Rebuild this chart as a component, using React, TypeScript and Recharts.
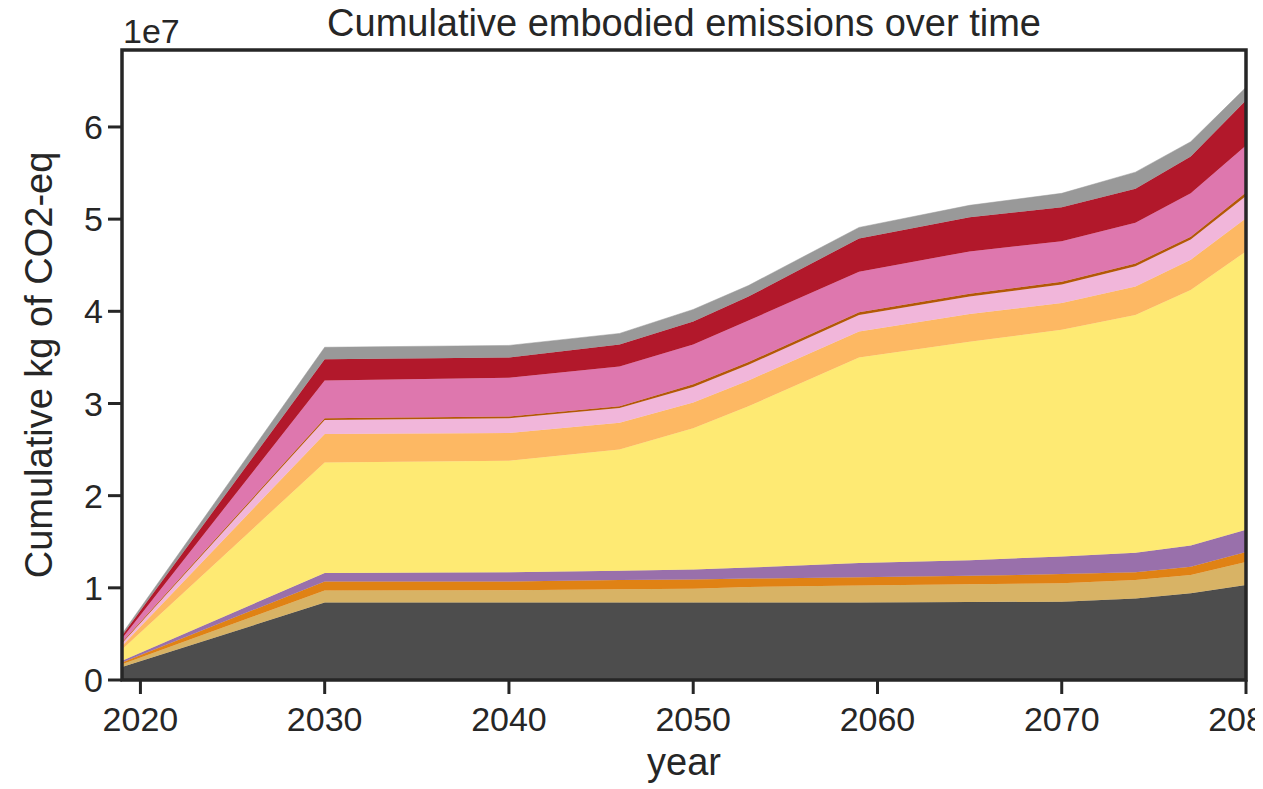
import { AreaChart, Area, XAxis, YAxis, ReferenceArea, Label } from 'recharts';

// values in units of 1e7 kg CO2-eq (cumulative contribution of each layer)
const years = [2019, 2030, 2040, 2046, 2050, 2053, 2059, 2065, 2070, 2074, 2077, 2080];
const darkGrey = [0.14, 0.84, 0.84, 0.84, 0.84, 0.84, 0.84, 0.845, 0.85, 0.885, 0.94, 1.03];
const tan = [0.03, 0.13, 0.135, 0.145, 0.15, 0.17, 0.185, 0.195, 0.2, 0.2, 0.2, 0.25];
const orange = [0.02, 0.1, 0.095, 0.1, 0.1, 0.09, 0.09, 0.09, 0.1, 0.085, 0.09, 0.11];
const purple = [0.02, 0.09, 0.1, 0.1, 0.11, 0.12, 0.155, 0.17, 0.19, 0.21, 0.23, 0.24];
const yellow = [0.12, 1.2, 1.21, 1.315, 1.53, 1.75, 2.23, 2.37, 2.46, 2.58, 2.77, 3.02];
const lightOrange = [0.04, 0.31, 0.3, 0.29, 0.28, 0.28, 0.28, 0.3, 0.29, 0.31, 0.33, 0.36];
const lightPink = [0.03, 0.15, 0.16, 0.16, 0.17, 0.17, 0.18, 0.19, 0.2, 0.22, 0.22, 0.24];
const brown = [0.01, 0.02, 0.02, 0.02, 0.03, 0.03, 0.03, 0.03, 0.03, 0.03, 0.03, 0.04];
const pink = [0.04, 0.41, 0.42, 0.43, 0.43, 0.45, 0.44, 0.46, 0.44, 0.44, 0.47, 0.51];
const red = [0.03, 0.23, 0.22, 0.24, 0.25, 0.26, 0.36, 0.37, 0.37, 0.37, 0.4, 0.49];
const grey = [0.02, 0.13, 0.13, 0.12, 0.13, 0.12, 0.12, 0.13, 0.15, 0.18, 0.16, 0.14];

const xTicks = [2020, 2030, 2040, 2050, 2060, 2070, 2080];
const yTicks = [0, 1, 2, 3, 4, 5, 6];

const layers = [
  { key: 'darkGrey', values: darkGrey, color: '#4d4d4d' },
  { key: 'tan', values: tan, color: '#d8b365' },
  { key: 'orange', values: orange, color: '#e08214' },
  { key: 'purple', values: purple, color: '#9970ab' },
  { key: 'yellow', values: yellow, color: '#feea73' },
  { key: 'lightOrange', values: lightOrange, color: '#fdb863' },
  { key: 'lightPink', values: lightPink, color: '#f1b6da' },
  { key: 'brown', values: brown, color: '#b35806' },
  { key: 'pink', values: pink, color: '#de77ae' },
  { key: 'red', values: red, color: '#b2182b' },
  { key: 'grey', values: grey, color: '#999999' },
];

const data = years.map((year, i) => {
  const row: Record<string, number> = { year };
  layers.forEach((l) => {
    row[l.key] = l.values[i];
  });
  return row;
});

const FONT = '"Liberation Sans", Arial, sans-serif';
const INK = '#262626';

const YLabel = (props: any) => {
  const { viewBox } = props;
  const cx = viewBox.x + 30;
  const cy = viewBox.y + viewBox.height / 2;
  return (
    <text x={cx} y={cy} transform={`rotate(-90, ${cx}, ${cy})`} textAnchor="middle"
      fontSize={38} fill={INK} fontFamily={FONT}>
      Cumulative kg of CO2-eq
    </text>
  );
};

const XLabel = (props: any) => {
  const { viewBox } = props;
  return (
    <text x={viewBox.x + viewBox.width / 2} y={viewBox.y + 95} textAnchor="middle"
      fontSize={38} fill={INK} fontFamily={FONT}>
      year
    </text>
  );
};

export default function App() {
  return (
    <div style={{ width: 1255, height: 789, marginTop: -8, fontFamily: FONT }}>
      <AreaChart width={1255} height={789} data={data}
        margin={{ top: 50, right: 17, bottom: 49, left: 14 }}>
        <XAxis dataKey="year" type="number" domain={[2019, 2080]} ticks={xTicks} interval={0}
          allowDataOverflow axisLine={false} tickSize={14} tickMargin={13} height={60}
          tickLine={{ stroke: INK, strokeWidth: 3 }}
          tick={{ fill: INK, fontSize: 34, fontFamily: FONT }}>
          <Label content={XLabel} />
        </XAxis>
        <YAxis type="number" domain={[0, 6.835]} ticks={yTicks} interval={0} allowDataOverflow
          axisLine={false} tickSize={14} tickMargin={5} width={100}
          tickLine={{ stroke: INK, strokeWidth: 3 }}
          tick={{ fill: INK, fontSize: 34, fontFamily: FONT }}>
          <Label content={YLabel} />
        </YAxis>
        {layers.map((l) => (
          <Area key={l.key} dataKey={l.key} stackId="1" type="linear"
            fill={l.color} fillOpacity={1} stroke={l.color} strokeWidth={0.5}
            isAnimationActive={false} />
        ))}
        <ReferenceArea x1={2019} x2={2080} y1={0} y2={6.835} ifOverflow="visible"
          fill="none" stroke={INK} strokeWidth={3.5} />
        <text x={684 - 8} y={36} textAnchor="middle" fontSize={38} fill={INK} fontFamily={FONT}>
          Cumulative embodied emissions over time
        </text>
        <text x={115} y={43} textAnchor="start" fontSize={34} fill={INK} fontFamily={FONT}>
          1e7
        </text>
      </AreaChart>
    </div>
  );
}
